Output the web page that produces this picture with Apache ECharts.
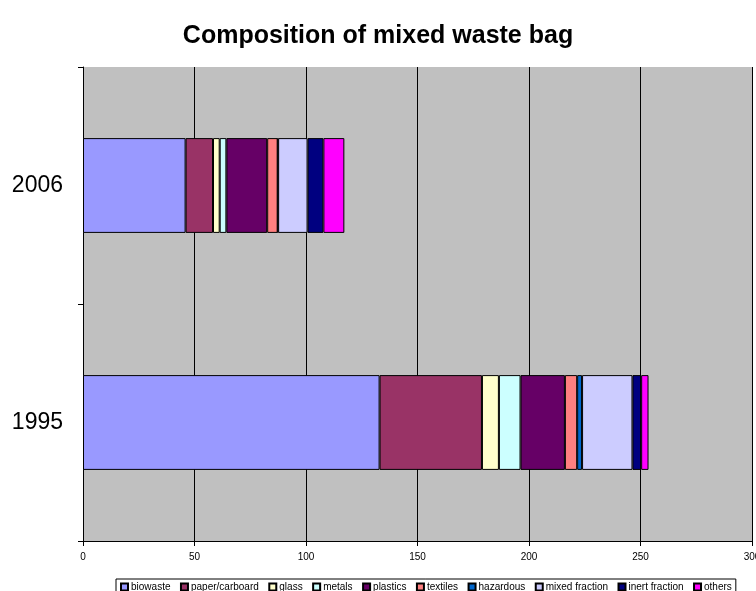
<!DOCTYPE html>
<html>
<head>
<meta charset="utf-8">
<script src="https://cdn.jsdelivr.net/npm/echarts@6/dist/echarts.min.js"></script>
<style>
  html, body { margin: 0; padding: 0; background: #fff; }
  #chart { width: 756px; height: 591px; }
</style>
</head>
<body>
<div id="chart"></div>
<script>
// years, bottom to top
const years = ['1995', '2006']

const wasteNames = ['biowaste', 'paper/carboard', 'glass', 'metals', 'plastics', 'textiles',
  'hazardous', 'mixed fraction', 'inert fraction', 'others']
const wasteColors = ['#9999FF', '#993366', '#FFFFCC', '#CCFFFF', '#660066', '#FF8080',
  '#0066CC', '#CCCCFF', '#000080', '#FF00FF']

// values per fraction: [1995, 2006]
const biowaste = [133, 46]
const paper = [45.9, 12.3]
const glass = [7.6, 3]
const metals = [9.7, 3]
const plastics = [19.9, 18.3]
const textiles = [5.5, 4.7]
const hazardous = [2.2, 0.2]
const mixedFraction = [22.6, 13.2]
const inertFraction = [3.9, 7.1]
const others = [3.3, 9.4]

const xTicks = { min: 0, max: 300, step: 50 }

const allValues = [biowaste, paper, glass, metals, plastics, textiles,
  hazardous, mixedFraction, inertFraction, others]

const chart = echarts.init(document.getElementById('chart'))

const series = wasteNames.map((name, i) => {
  return {
    name: name,
    type: 'bar',
    stack: 'total',
    barWidth: '40%',
    data: allValues[i],
    itemStyle: {
      color: wasteColors[i],
      borderColor: '#000',
      borderWidth: 1
    }
  }
})

const option = {
  animation: false,
  textStyle: { fontFamily: 'Liberation Sans, Arial, sans-serif' },
  title: {
    text: 'Composition of mixed waste bag',
    left: 'center',
    top: 19,
    textStyle: {
      fontSize: 25,
      fontWeight: 'bold',
      color: '#000',
      fontFamily: 'Liberation Sans, Arial, sans-serif'
    }
  },
  legend: {
    data: wasteNames,
    bottom: -4,
    left: 116,
    icon: 'rect',
    itemWidth: 7,
    itemHeight: 7,
    itemGap: 9.5,
    padding: [3, 4, 3, 4],
    borderColor: '#000',
    borderWidth: 1,
    backgroundColor: '#fff',
    textStyle: { fontSize: 10, color: '#000', padding: [0, 0, 0, -2] }
  },
  grid: {
    left: 83,
    right: 4,
    top: 67,
    bottom: 50,
    show: true,
    backgroundColor: '#C0C0C0',
    borderWidth: 0,
    outerBoundsMode: 'none'
  },
  xAxis: {
    type: 'value',
    min: xTicks.min,
    max: xTicks.max,
    interval: xTicks.step,
    axisLine: { show: true, lineStyle: { color: '#000', width: 1 } },
    axisTick: { show: true, length: 5, lineStyle: { color: '#000' } },
    axisLabel: { fontSize: 10, color: '#000', margin: 11 },
    splitLine: { show: true, lineStyle: { color: '#000', width: 1 } }
  },
  yAxis: {
    type: 'category',
    data: years,
    axisLine: { show: true, lineStyle: { color: '#000', width: 1 } },
    axisTick: { show: true, length: 5, lineStyle: { color: '#000' } },
    axisLabel: { fontSize: 23, color: '#000', margin: 20 },
    splitLine: { show: false }
  },
  series: series
}

chart.setOption(option)
</script>
</body>
</html>
